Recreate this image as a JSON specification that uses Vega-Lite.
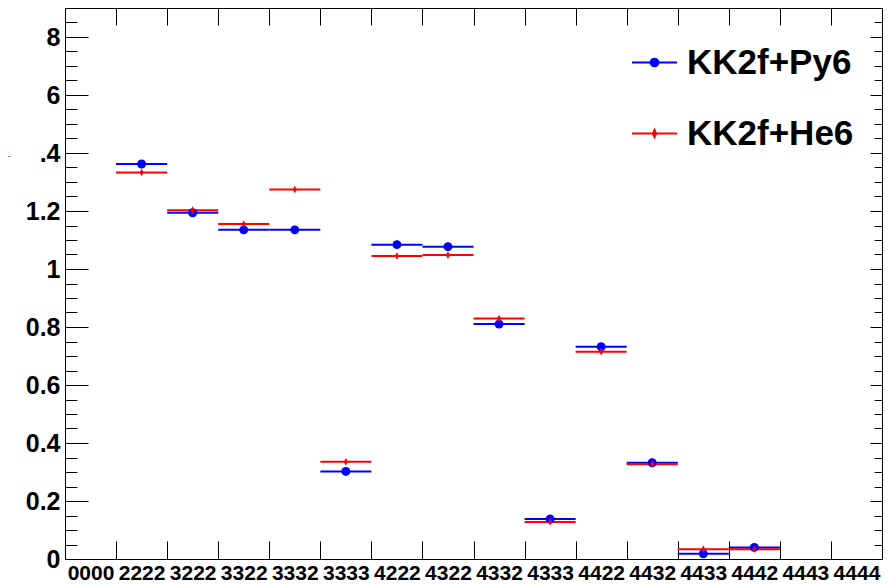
{
  "$schema": "https://vega.github.io/schema/vega-lite/v6.json",
  "autosize": "none",
  "width": 817,
  "height": 551,
  "padding": {"left": 65, "top": 8, "right": 9, "bottom": 25},
  "background": "white",
  "data": {
    "values": [
      {"bin": "2222", "series": "KK2f+Py6", "value": 1.362},
      {"bin": "3222", "series": "KK2f+Py6", "value": 1.194},
      {"bin": "3322", "series": "KK2f+Py6", "value": 1.135},
      {"bin": "3332", "series": "KK2f+Py6", "value": 1.135},
      {"bin": "3333", "series": "KK2f+Py6", "value": 0.302},
      {"bin": "4222", "series": "KK2f+Py6", "value": 1.084},
      {"bin": "4322", "series": "KK2f+Py6", "value": 1.077},
      {"bin": "4332", "series": "KK2f+Py6", "value": 0.81},
      {"bin": "4333", "series": "KK2f+Py6", "value": 0.138},
      {"bin": "4422", "series": "KK2f+Py6", "value": 0.732},
      {"bin": "4432", "series": "KK2f+Py6", "value": 0.332},
      {"bin": "4433", "series": "KK2f+Py6", "value": 0.018},
      {"bin": "4442", "series": "KK2f+Py6", "value": 0.04},
      {"bin": "2222", "series": "KK2f+He6", "value": 1.333},
      {"bin": "3222", "series": "KK2f+He6", "value": 1.203},
      {"bin": "3322", "series": "KK2f+He6", "value": 1.155},
      {"bin": "3332", "series": "KK2f+He6", "value": 1.274},
      {"bin": "3333", "series": "KK2f+He6", "value": 0.335},
      {"bin": "4222", "series": "KK2f+He6", "value": 1.045},
      {"bin": "4322", "series": "KK2f+He6", "value": 1.048},
      {"bin": "4332", "series": "KK2f+He6", "value": 0.829},
      {"bin": "4333", "series": "KK2f+He6", "value": 0.128},
      {"bin": "4422", "series": "KK2f+He6", "value": 0.715},
      {"bin": "4432", "series": "KK2f+He6", "value": 0.327},
      {"bin": "4433", "series": "KK2f+He6", "value": 0.034},
      {"bin": "4442", "series": "KK2f+He6", "value": 0.034}
    ]
  },
  "layer": [
    {
      "mark": {"type": "rule", "strokeWidth": 2},
      "encoding": {
        "x": {
          "field": "bin", "type": "nominal", "bandPosition": 0,
          "scale": {"type": "band", "domain": ["0000","2222","3222","3322","3332","3333","4222","4322","4332","4333","4422","4432","4433","4442","4443","4444"], "paddingInner": 0, "paddingOuter": 0},
          "axis": {"orient": "bottom", "title": null, "tickBand": "extent", "tickSize": -18, "labelPadding": 21, "labelFontSize": 21, "labelAngle": 0, "labelOverlap": false, "labelBound": false}
        },
        "x2": {"field": "bin", "bandPosition": 1},
        "y": {
          "field": "value", "type": "quantitative",
          "scale": {"domain": [0, 1.9], "nice": false, "zero": true},
          "axis": {
            "orient": "left",
            "title": "-", "titleAngle": 0, "titleFontSize": 10, "titleColor": "#777", "titleFontWeight": "normal", "titleX": -58, "titleY": 147, "titleAlign": "left", "titleBaseline": "middle",
            "values": [0,0.05,0.1,0.15,0.2,0.25,0.3,0.35,0.4,0.45,0.5,0.55,0.6,0.65,0.7,0.75,0.8,0.85,0.9,0.95,1,1.05,1.1,1.15,1.2,1.25,1.3,1.35,1.4,1.45,1.5,1.55,1.6,1.65,1.7,1.75,1.8,1.85,1.9],
            "tickSize": {"condition": {"test": "abs(datum.value*5 - round(datum.value*5)) < 0.001", "value": -23}, "value": -12},
            "labelExpr": "abs(datum.value-1.8)<0.001 ? '8' : abs(datum.value-1.6)<0.001 ? '6' : abs(datum.value-1.4)<0.001 ? '.4' : abs(datum.value*5 - round(datum.value*5)) < 0.001 ? format(datum.value, '~g') : ''",
            "labelPadding": 28, "labelFontSize": 25, "labelOverlap": false, "labelBound": false, "labelFlush": false
          }
        },
        "color": {
          "field": "series", "type": "nominal",
          "scale": {"domain": ["KK2f+Py6", "KK2f+He6"], "range": ["#0000ff", "#ff0000"]},
          "legend": {
            "orient": "none", "legendX": 566, "legendY": 31, "title": null, "padding": 0,
            "labelFont": "Liberation Sans", "labelFontSize": 35, "labelFontWeight": "bold", "labelColor": "black", "labelLimit": 400,
            "symbolSize": 2025, "symbolStrokeWidth": 2, "labelOffset": 9, "rowPadding": 29,
            "encode": {
              "symbols": {
                "update": {
                  "shape": {"signal": "datum.value === 'KK2f+Py6' ? 'M-1,0H1M-0.17,0A0.17,0.17 0 1 0 0.17,0A0.17,0.17 0 1 0 -0.17,0Z' : 'M-1,0H1M0,-0.16L0.07,0L0,0.16L-0.07,0Z'"},
                  "stroke": {"signal": "datum.value === 'KK2f+Py6' ? '#0000ff' : '#ff0000'"},
                  "fill": {"signal": "datum.value === 'KK2f+Py6' ? '#0000ff' : '#ff0000'"},
                  "strokeWidth": {"value": 2},
                  "opacity": {"value": 1}
                }
              }
            }
          }
        }
      }
    },
    {
      "transform": [{"filter": "datum.series === 'KK2f+Py6'"}],
      "mark": {"type": "point", "filled": true, "opacity": 1, "size": 80, "shape": "circle"},
      "encoding": {
        "x": {
          "field": "bin", "type": "nominal",
          "scale": {"type": "band"},
          "axis": {"orient": "top", "title": null, "labels": false, "tickBand": "extent", "tickSize": -17}
        },
        "y": {
          "field": "value", "type": "quantitative",
          "axis": {
            "orient": "right", "title": null, "labels": false,
            "values": [0,0.05,0.1,0.15,0.2,0.25,0.3,0.35,0.4,0.45,0.5,0.55,0.6,0.65,0.7,0.75,0.8,0.85,0.9,0.95,1,1.05,1.1,1.15,1.2,1.25,1.3,1.35,1.4,1.45,1.5,1.55,1.6,1.65,1.7,1.75,1.8,1.85,1.9],
            "tickSize": {"condition": {"test": "abs(datum.value*5 - round(datum.value*5)) < 0.001", "value": -12}, "value": -8}
          }
        },
        "color": {"field": "series", "type": "nominal"}
      }
    },
    {
      "transform": [{"filter": "datum.series === 'KK2f+He6'"}],
      "mark": {"type": "point", "filled": true, "opacity": 1, "size": 80, "shape": "M0,-0.85L0.45,0L0,0.85L-0.45,0Z"},
      "encoding": {
        "x": {"field": "bin", "type": "nominal", "scale": {"type": "band"}, "axis": null},
        "y": {"field": "value", "type": "quantitative", "axis": null},
        "color": {"field": "series", "type": "nominal"}
      }
    }
  ],
  "resolve": {"axis": {"x": "independent", "y": "independent"}},
  "config": {
    "view": {"stroke": "black", "strokeWidth": 1},
    "axis": {"domain": false, "grid": false, "tickColor": "black", "tickWidth": 1, "labelFont": "Liberation Sans", "labelFontWeight": "bold", "labelColor": "black", "titleFont": "Liberation Sans"}
  }
}
